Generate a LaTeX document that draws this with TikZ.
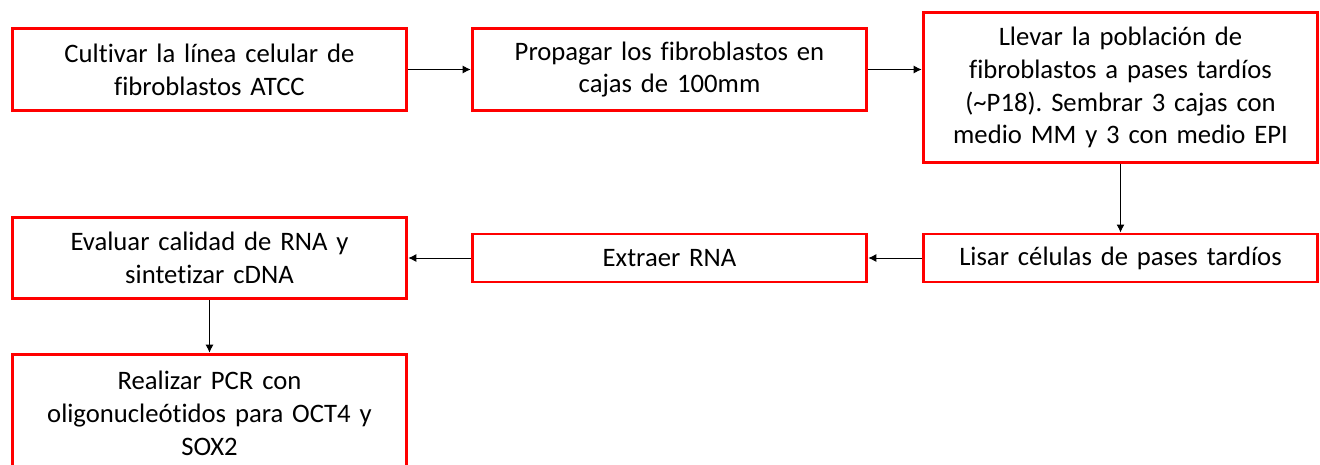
\documentclass[tikz,border=0pt]{standalone}
\usepackage{fontspec}
\setmainfont{Carlito}[Ligatures=NoCommon]
\usetikzlibrary{positioning,arrows.meta}
\frenchspacing

\begin{document}
\begin{tikzpicture}[
x=0.75pt, y=-0.75pt,
paso/.style={
  draw=red,
  line width=2.2pt,
  fill=white,
  rectangle,
  minimum width=296pt,
  text width=290pt,
  inner sep=0pt,
  align=center,
  font=\fontsize{20}{24.6}\selectfont
  },
flecha/.style={
  ->,
  line width=0.75pt
  },
>={Latex[length=6pt,width=6pt]}
]
\useasboundingbox (0,0) rectangle (1320,464);
\node[paso, minimum height=61pt] (cultivar) at (209.5,69.5) {Cultivar la línea celular de\\fibroblastos ATCC};
\node[paso, minimum height=61pt] (propagar) at (669.5,69.5) {Propagar los fibroblastos en\\cajas de 100mm};
\node[paso, minimum height=112pt] (llevar) at (1120.5,87.5) {Llevar la población de\\fibroblastos a pases tardíos\\(\textasciitilde P18). Sembrar 3 cajas con\\medio MM y 3 con medio EPI};
\node[paso, minimum height=36pt] (lisar) at (1120.5,258) {Lisar células de pases tardíos};
\node[paso, minimum height=36pt] (extraer) at (669.5,258) {Extraer RNA};
\node[paso, minimum height=61pt] (evaluar) at (209.5,258) {Evaluar calidad de RNA y\\sintetizar cDNA};
\node[paso, minimum height=89pt] (pcr) at (209.5,413.5) {Realizar PCR con\\oligonucleótidos para OCT4 y\\SOX2};
% conectores
\draw[flecha] (cultivar) -- (propagar);
\draw[flecha] (propagar.east) -- (propagar.east -| llevar.west);
\draw[flecha] (llevar) -- (lisar);
\draw[flecha] (lisar) -- (extraer);
\draw[flecha] (extraer) -- (evaluar);
\draw[flecha] (evaluar) -- (pcr);
\end{tikzpicture}
\end{document}
